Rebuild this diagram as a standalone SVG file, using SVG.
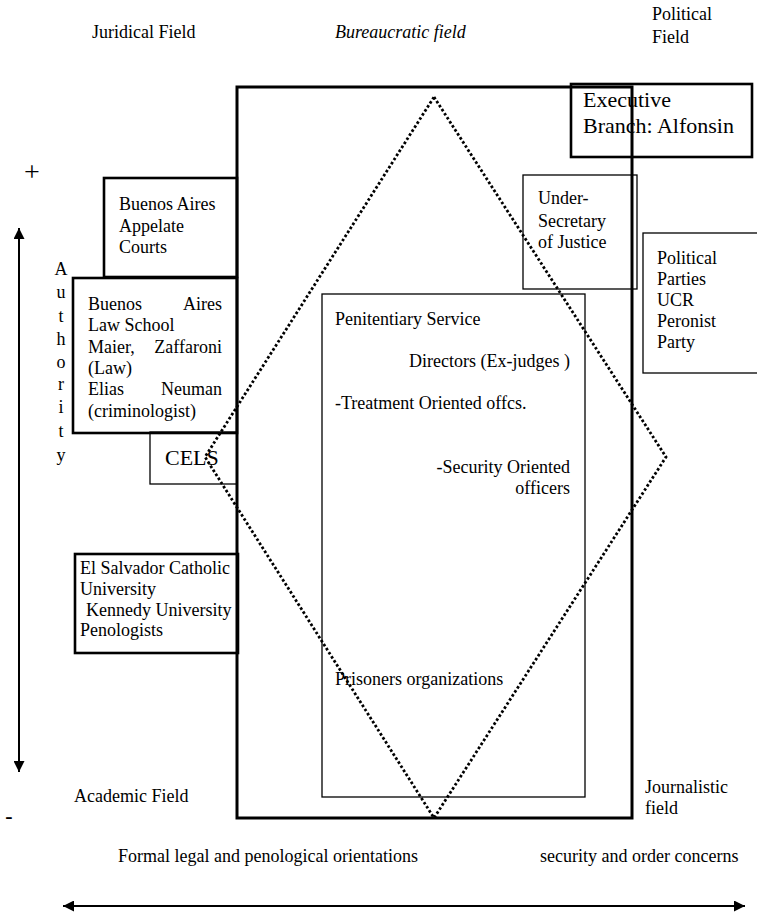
<svg xmlns="http://www.w3.org/2000/svg" width="757" height="914" viewBox="0 0 757 914">
<defs>
<marker id="ah" viewBox="0 0 10 10" refX="10" refY="5" markerWidth="11" markerHeight="11" markerUnits="userSpaceOnUse" orient="auto-start-reverse">
<path d="M0,0 L10,5 L0,10 z" fill="#000"/>
</marker>
<style>
text{font-family:"Liberation Serif","Times New Roman",serif;font-size:18px;fill:#000}
.big{font-size:22px}
.huge{font-size:28px}
.it{font-style:italic}
.thick{fill:none;stroke:#000;stroke-width:2.6}
.thin{fill:none;stroke:#000;stroke-width:1.3}
.axis{fill:none;stroke:#000;stroke-width:2}
.end{text-anchor:end}
.mid{text-anchor:middle}
</style>
</defs>
<rect width="757" height="914" fill="#fff"/>

<g id="field-labels">
<text x="92" y="38">Juridical Field</text>
<text x="335" y="38" class="it">Bureaucratic field</text>
<text x="652" y="20">Political</text>
<text x="652" y="43">Field</text>
<text x="74" y="802">Academic Field</text>
<text x="645" y="793">Journalistic</text>
<text x="645" y="814">field</text>
<text x="118" y="862">Formal legal and penological orientations</text>
<text x="540" y="862">security and order concerns</text>
</g>

<g id="bureaucratic-field">
<rect x="237" y="87" width="395" height="731" fill="none" stroke="#000" stroke-width="3"/>
</g>

<g id="penitentiary-service">
<rect x="322" y="294" width="263" height="503" class="thin"/>
<text x="335" y="325">Penitentiary Service</text>
<text x="570" y="367" class="end">Directors (Ex-judges )</text>
<text x="335" y="409">-Treatment Oriented offcs.</text>
<text x="570" y="473" class="end">-Security Oriented</text>
<text x="570" y="494" class="end">officers</text>
<text x="335" y="685">Prisoners organizations</text>
</g>

<g id="diamond">
<polygon points="434,97 666,457 434,818 205,457" fill="none" stroke="#000" stroke-width="2.8" stroke-dasharray="2.6 2.2"/>
</g>

<g id="executive-branch">
<rect x="571" y="84" width="181" height="73" class="thick"/>
<text x="583" y="107" class="big">Executive</text>
<text x="583" y="133" class="big">Branch: Alfonsin</text>
</g>

<g id="under-secretary">
<rect x="523" y="175" width="114" height="114" class="thin"/>
<text x="538" y="204">Under-</text>
<text x="538" y="227">Secretary</text>
<text x="538" y="248">of Justice</text>
</g>

<g id="political-parties">
<rect x="643" y="233" width="120" height="140" class="thin"/>
<text x="657" y="264">Political</text>
<text x="657" y="285">Parties</text>
<text x="657" y="306">UCR</text>
<text x="657" y="327">Peronist</text>
<text x="657" y="348">Party</text>
</g>

<g id="appelate-courts">
<rect x="104" y="178" width="133" height="99" class="thick"/>
<text x="119" y="210">Buenos Aires</text>
<text x="119" y="232">Appelate</text>
<text x="119" y="253">Courts</text>
</g>

<g id="law-school">
<rect x="73" y="278" width="164" height="155" class="thick"/>
<text x="88" y="310">Buenos</text>
<text x="222" y="310" class="end">Aires</text>
<text x="88" y="331">Law School</text>
<text x="88" y="353">Maier,</text>
<text x="222" y="353" class="end">Zaffaroni</text>
<text x="88" y="374">(Law)</text>
<text x="88" y="395">Elias</text>
<text x="222" y="395" class="end">Neuman</text>
<text x="88" y="417">(criminologist)</text>
</g>

<g id="cels">
<rect x="150" y="432" width="87" height="52" class="thin"/>
<text x="165" y="465" class="big">CELS</text>
</g>

<g id="academic-universities">
<rect x="75" y="554" width="163" height="99" class="thick"/>
<text x="80" y="574">El Salvador Catholic</text>
<text x="80" y="595">University</text>
<text x="86" y="616">Kennedy University</text>
<text x="80" y="636">Penologists</text>
</g>

<g id="authority-axis-label">
<text x="32" y="181" class="huge mid">+</text>
<text x="61" y="275" class="mid">A</text>
<text x="61" y="298" class="mid">u</text>
<text x="61" y="322" class="mid">t</text>
<text x="61" y="345" class="mid">h</text>
<text x="61" y="368" class="mid">o</text>
<text x="61" y="390" class="mid">r</text>
<text x="61" y="413" class="mid">i</text>
<text x="61" y="437" class="mid">t</text>
<text x="61" y="461" class="mid">y</text>
<text x="9" y="823" class="big mid" font-weight="bold">-</text>
</g>

<g id="connectors">
<line x1="19" y1="228" x2="19" y2="772" class="axis" marker-start="url(#ah)" marker-end="url(#ah)"/>
<line x1="63" y1="906" x2="745" y2="906" class="axis" marker-start="url(#ah)" marker-end="url(#ah)"/>
</g>
</svg>
